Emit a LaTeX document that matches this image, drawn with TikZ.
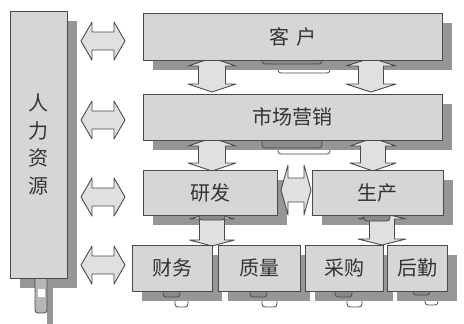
\documentclass[tikz,border=0pt]{standalone}
\usepackage{fontspec}
\newfontfamily\cjk{Noto Sans CJK SC}
\definecolor{boxc}{HTML}{D6D6D6}
\definecolor{edgec}{HTML}{4A4A4A}
\definecolor{shadc}{HTML}{969696}
\definecolor{arrc}{HTML}{E0E0E0}
\definecolor{tabc}{HTML}{8A8A8A}
\definecolor{txtc}{HTML}{333333}
\pgfdeclarelayer{lzero}
\pgfdeclarelayer{lone}
\pgfdeclarelayer{ltwo}
\pgfsetlayers{lzero,lone,ltwo,main}
% horizontal double block arrow: x1,x2,y,shaft half,head half,head length
\newcommand\dah[6]{%
 \draw[arr] (#1,#3) -- (#1+#6,#3-#5) -- (#1+#6,#3-#4) -- (#2-#6,#3-#4) -- (#2-#6,#3-#5) -- (#2,#3) -- (#2-#6,#3+#5) -- (#2-#6,#3+#4) -- (#1+#6,#3+#4) -- (#1+#6,#3+#5) -- cycle;}
% vertical double block arrow: x,y1,y2,shaft half,head half,head length
\newcommand\dav[6]{%
 \draw[arr] (#1,#2) -- (#1+#5,#2+#6) -- (#1+#4,#2+#6) -- (#1+#4,#3-#6) -- (#1+#5,#3-#6) -- (#1,#3) -- (#1-#5,#3-#6) -- (#1-#4,#3-#6) -- (#1-#4,#2+#6) -- (#1-#5,#2+#6) -- cycle;}
\begin{document}
\begin{tikzpicture}[x=1pt,y=-1pt,
  box/.style={draw=edgec, line width=0.9pt, fill=boxc, inner sep=0pt,
    font=\cjk\fontsize{20}{20}\selectfont, text=txtc},
  arr/.style={draw=edgec, line width=0.9pt, fill=arrc, line join=round},
  shade/.style={fill=shadc},
  tabd/.style={draw=edgec, fill=tabc, line width=0.8pt, rounded corners=3pt},
  tabl/.style={draw=edgec, fill=white, line width=0.8pt, rounded corners=3pt}]
\useasboundingbox (0,0) rectangle (464,324);
\begin{pgfonlayer}{lzero}
  \fill[white] (0,0) rectangle (464,324);
\end{pgfonlayer}

% boxes
\node[box, minimum width=57pt, minimum height=267pt, align=center,
  font=\cjk\fontsize{20}{27.5}\selectfont] (hr) at (38.5,144.5) {人\\力\\资\\源};
\node[box, minimum width=299pt, minimum height=47pt] (kh) at (292.5,36.5) {客\hspace{7pt}户};
\node[box, minimum width=299pt, minimum height=46pt] (sc) at (292.5,117) {市场营销};
\node[box, minimum width=134pt, minimum height=45pt] (yf) at (210,192.5) {研发};
\node[box, minimum width=131pt, minimum height=45pt] (shc) at (377.5,192.5) {生产};
\node[box, minimum width=80pt, minimum height=46pt] (cw) at (172,268) {财务};
\node[box, minimum width=82pt, minimum height=46pt] (zl) at (259,268) {质量};
\node[box, minimum width=78pt, minimum height=46pt] (cg) at (344,268) {采购};
\node[box, minimum width=60pt, minimum height=46pt] (hq) at (417,268) {后勤};

% light clips below the shadows
\begin{pgfonlayer}{lzero}
  \draw[tabl] (278,62) rectangle (330,73);
  \draw[tabl] (278,142) rectangle (330,154);
  \draw[tabl] (175,296) rectangle (188,307);
  \draw[tabl] (262,296) rectangle (277,307);
  \draw[tabl] (347,296) rectangle (362,307);
  \draw[tabl] (425,294) rectangle (438,305);
  \fill[shade] (47,288) rectangle (53,324);
\end{pgfonlayer}

% shadows
\begin{pgfonlayer}{lone}
  \foreach \n in {hr,kh,sc,yf,shc,cw,zl,cg,hq}{
    \fill[shade] ([shift={(10,10)}]\n.north west) rectangle ([shift={(10,10)}]\n.south east);
  }
\end{pgfonlayer}

% arrows and dark clips
\begin{pgfonlayer}{ltwo}
  \dah{81}{125}{41}{9}{19}{11}
  \dah{81}{125}{120}{9}{19}{11}
  \dah{81}{125}{197}{9}{19}{11}
  \dah{81}{125}{265}{9}{19}{11}
  \dav{212}{58}{92}{13.5}{24}{8}
  \dav{371}{58}{92}{12.5}{25}{8}
  \dav{212}{138}{171}{13.5}{24}{8}
  \dav{373}{138}{171}{12.5}{23}{8}
  \dav{212}{213}{246}{12.5}{22.5}{6}
  \dav{382}{213}{245}{12.5}{24}{6}
  \dah{281}{311}{190}{12}{25}{7}
  \draw[tabd] (262,52) rectangle (322,64);
  \draw[tabd] (262,132) rectangle (322,148);
  \draw[tabd] (199,208) rectangle (225,220);
  \draw[tabd] (364,208) rectangle (390,221);
  \draw[tabd] (163,286) rectangle (180,297);
  \draw[tabd] (250,286) rectangle (267,297);
  \draw[tabd] (335,286) rectangle (352,297);
  \draw[tabd] (413,284) rectangle (430,295);
  \draw[draw=edgec, fill=boxc!85!black, line width=0.8pt, rounded corners=3pt] (35,272) rectangle (47,313);
  \fill[white] (37.5,289) rectangle (44.5,297);
\end{pgfonlayer}
\end{tikzpicture}
\end{document}
